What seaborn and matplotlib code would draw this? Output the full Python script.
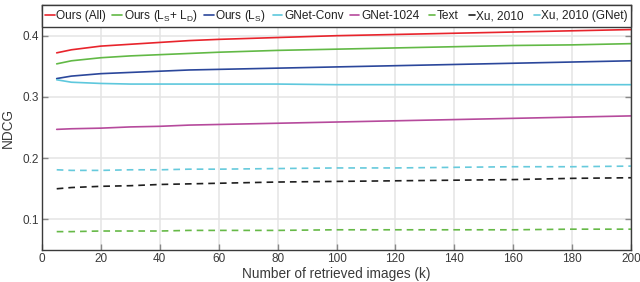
import matplotlib
matplotlib.use("Agg")
import matplotlib.pyplot as plt
import seaborn as sns

# -------------------
# DATA
# -------------------
k_values = [5, 10, 20, 30, 40, 50, 60, 80, 100, 120, 140, 160, 180, 200]

ours_all = [0.372, 0.377, 0.383, 0.386, 0.389, 0.392, 0.394, 0.397, 0.400, 0.402, 0.404, 0.406, 0.408, 0.410]
ours_ls_ld = [0.354, 0.359, 0.364, 0.367, 0.369, 0.371, 0.373, 0.376, 0.378, 0.380, 0.382, 0.384, 0.385, 0.387]
ours_ls = [0.330, 0.334, 0.338, 0.340, 0.342, 0.344, 0.345, 0.347, 0.349, 0.351, 0.353, 0.355, 0.357, 0.359]
gnet_conv = [0.328, 0.324, 0.322, 0.321, 0.321, 0.321, 0.321, 0.321, 0.320, 0.320, 0.320, 0.320, 0.320, 0.320]
gnet_1024 = [0.247, 0.248, 0.249, 0.251, 0.252, 0.254, 0.255, 0.257, 0.259, 0.261, 0.263, 0.265, 0.267, 0.269]
text_only = [0.080, 0.080, 0.081, 0.081, 0.081, 0.082, 0.082, 0.082, 0.083, 0.083, 0.083, 0.083, 0.084, 0.084]
xu_2010 = [0.150, 0.152, 0.154, 0.155, 0.157, 0.158, 0.159, 0.161, 0.162, 0.163, 0.164, 0.165, 0.167, 0.168]
xu_2010_gnet = [0.181, 0.180, 0.180, 0.181, 0.181, 0.182, 0.182, 0.183, 0.184, 0.184, 0.185, 0.186, 0.186, 0.187]

labels = [
    "Ours (All)",
    r"Ours (L$_{\rm S}$+ L$_{\rm D}$)",
    r"Ours (L$_{\rm S}$)",
    "GNet-Conv",
    "GNet-1024",
    "Text",
    "Xu, 2010",
    "Xu, 2010 (GNet)",
]
series = [ours_all, ours_ls_ld, ours_ls, gnet_conv, gnet_1024, text_only, xu_2010, xu_2010_gnet]
colors = ["#e8242c", "#62b946", "#2b479b", "#5ec8dd", "#b64a9c", "#66b947", "#1e1e1e", "#66cadc"]
dashed = [False, False, False, False, False, True, True, True]

# -------------------
# STYLE
# -------------------
sns.set_theme(style="whitegrid")
plt.rcParams["font.family"] = ["Liberation Sans", "DejaVu Sans"]
plt.rcParams["mathtext.fontset"] = "custom"
plt.rcParams["mathtext.rm"] = "Liberation Sans"
plt.rcParams["mathtext.it"] = "Liberation Sans:italic"

fig = plt.figure(figsize=(6.4, 2.82), dpi=100)
ax = fig.add_axes([0.0656, 0.1135, 0.9204, 0.8685])

for vals, lab, col, dsh in zip(series, labels, colors, dashed):
    sns.lineplot(x=k_values, y=vals, ax=ax, color=col, label=lab, linewidth=1.2,
                 linestyle=(0, (4, 3)) if dsh else "-")

ax.set_xlim(0, 200)
ax.set_ylim(0.05, 0.45)
ax.set_xticks(range(0, 201, 20))
ax.set_yticks([0.1, 0.2, 0.3, 0.4])
ax.set_yticklabels(["0.1", "0.2", "0.3", "0.4"])

ax.grid(True, color="#e4e4e4", linewidth=1.1)
for s in ax.spines.values():
    s.set_visible(True)
    s.set_color("#3a3a3a")
    s.set_linewidth(1.0)

ax.tick_params(axis="both", direction="in", length=4.5, width=1.0, color="#888888",
               labelsize=8.5, labelcolor="#3a3a3a", pad=2.5,
               right=True, top=True, left=True, bottom=True)

ax.set_xlabel("Number of retrieved images (k)", fontsize=9.8, color="#3a3a3a", labelpad=1)
ax.set_ylabel("NDCG", fontsize=9.8, color="#3a3a3a", labelpad=5)

leg = ax.legend(loc="upper left", bbox_to_anchor=(0, 1, 1, 0), mode="expand", ncol=8,
                borderaxespad=0, fontsize=8.6, handlelength=0.8, handletextpad=0.15,
                columnspacing=0.6, borderpad=0.25, fancybox=False, framealpha=1,
                edgecolor="#3a3a3a")
leg.get_frame().set_linewidth(1.0)
for t in leg.get_texts():
    t.set_color("#222222")

# dashed entries show a single short dash in the legend
for h, dsh in zip(leg.legend_handles, dashed):
    if dsh:
        xs = h.get_xdata()
        x0, x1 = xs[0], xs[-1]
        h.set_linestyle("-")
        h.set_data([x0 + (x1 - x0) * 0.4, x1], [h.get_ydata()[0]] * 2)

fig.savefig("out.png", dpi=100)
